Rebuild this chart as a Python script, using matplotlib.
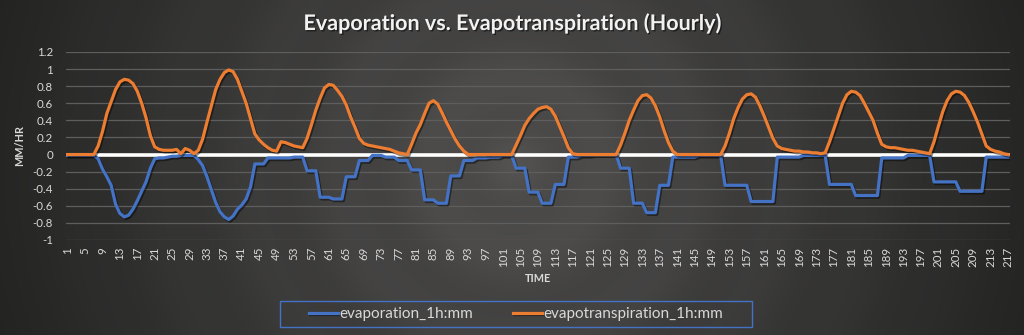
import numpy as np
import matplotlib
matplotlib.use('Agg')
import matplotlib.pyplot as plt
import matplotlib.patheffects as pe
from matplotlib.patches import Rectangle

# hourly values
hours = list(range(1, 218))
evapotranspiration = [
    0, 0, 0, 0, 0, 0, 0,
    0.10, 0.27, 0.48, 0.62, 0.76, 0.85, 0.88, 0.87, 0.83, 0.74, 0.60, 0.43, 0.22, 0.09,
    0.06, 0.05, 0.05, 0.05, 0.06, 0.01, 0.07, 0.05, 0.01, 0.05,
    0.18, 0.38, 0.57, 0.76, 0.88, 0.96, 0.99, 0.97, 0.88, 0.74,
    0.60, 0.42, 0.24, 0.17, 0.12, 0.08, 0.05, 0.04, 0.15, 0.14,
    0.12, 0.10, 0.09, 0.08, 0.19, 0.35, 0.52, 0.66, 0.78, 0.82,
    0.81, 0.75, 0.68, 0.58, 0.44, 0.32, 0.19, 0.13, 0.11, 0.10,
    0.09, 0.08, 0.07, 0.06, 0.04, 0.02, 0.01, 0.0, 0.12, 0.25,
    0.35, 0.48, 0.60, 0.63, 0.59, 0.49, 0.38, 0.28, 0.18, 0.10,
    0.04, 0.0,
    0, 0, 0, 0, 0, 0, 0, 0, 0, 0,
    0.11, 0.22, 0.34, 0.42, 0.48, 0.53, 0.55, 0.56, 0.53, 0.45,
    0.33, 0.21, 0.08, 0.01,
    0, 0, 0, 0, 0, 0, 0, 0, 0, 0,
    0.11, 0.25, 0.40, 0.52, 0.63, 0.69, 0.70, 0.66, 0.57, 0.44,
    0.28, 0.14, 0.04, 0.0,
    0, 0, 0, 0, 0, 0, 0, 0, 0, 0,
    0.10, 0.25, 0.42, 0.55, 0.65, 0.70, 0.71, 0.67, 0.57, 0.45,
    0.32, 0.19, 0.10, 0.07, 0.06, 0.05, 0.04, 0.04, 0.03, 0.03,
    0.02, 0.02, 0.01, 0.02, 0.15, 0.30, 0.45, 0.60, 0.70, 0.74,
    0.73, 0.69, 0.60, 0.50, 0.40, 0.25, 0.12, 0.09, 0.08, 0.08,
    0.07, 0.06, 0.05, 0.05, 0.04, 0.03, 0.02, 0.01, 0.15, 0.33,
    0.50, 0.63, 0.71, 0.74, 0.73, 0.69, 0.61, 0.50, 0.38, 0.24,
    0.10, 0.06, 0.04, 0.03, 0.01, 0.0,
]
evaporation = [
    -0.01, -0.01, -0.01, -0.01, -0.01, -0.01, -0.01,
    -0.05, -0.17, -0.26, -0.36, -0.58, -0.69, -0.73, -0.71, -0.64, -0.54, -0.43, -0.32, -0.16, -0.05,
    -0.04, -0.04, -0.03, -0.02, -0.02, -0.01, -0.01, -0.01, -0.01, -0.06,
    -0.13, -0.26, -0.41, -0.56, -0.67, -0.73, -0.76, -0.72, -0.64, -0.59,
    -0.52, -0.38,
    -0.11, -0.11, -0.11, -0.04, -0.04, -0.04, -0.04, -0.04, -0.04,
    -0.03, -0.03, -0.03, -0.19, -0.19, -0.19, -0.50, -0.50, -0.50,
    -0.52, -0.52, -0.52, -0.26, -0.26, -0.26, -0.07, -0.07, -0.07,
    -0.01, -0.01, -0.01, -0.03, -0.03, -0.03, -0.07, -0.07, -0.07,
    -0.18, -0.18, -0.18, -0.53, -0.53, -0.53, -0.57, -0.57, -0.57,
    -0.25, -0.25, -0.25, -0.07, -0.07, -0.07, -0.04, -0.04, -0.04,
    -0.03, -0.03, -0.03, -0.01, -0.01, -0.01, -0.16, -0.16, -0.16,
    -0.44, -0.44, -0.44, -0.57, -0.57, -0.57, -0.35, -0.35, -0.35,
    -0.03, -0.03, -0.03, -0.01, -0.01, -0.01, 0, 0, 0, 0, 0, 0,
    -0.16, -0.16, -0.16, -0.57, -0.57, -0.57, -0.68, -0.68, -0.68,
    -0.36, -0.36, -0.36, -0.03, -0.03, -0.03, -0.03, -0.03, -0.03,
    -0.01, -0.01, -0.01, -0.01, -0.01, -0.01,
    -0.36, -0.36, -0.36, -0.36, -0.36, -0.36,
    -0.55, -0.55, -0.55, -0.55, -0.55, -0.55,
    -0.03, -0.03, -0.03, -0.03, -0.03, -0.03,
    -0.01, -0.01, -0.01, -0.01, -0.01, -0.01,
    -0.35, -0.35, -0.35, -0.35, -0.35, -0.35,
    -0.48, -0.48, -0.48, -0.48, -0.48, -0.48,
    -0.04, -0.04, -0.04, -0.04, -0.04, -0.04,
    -0.01, -0.01, -0.01, -0.01, -0.01, -0.01,
    -0.32, -0.32, -0.32, -0.32, -0.32, -0.32,
    -0.43, -0.43, -0.43, -0.43, -0.43, -0.43,
    -0.03, -0.03, -0.03, -0.03, -0.03, -0.03,
]
x_ticks = list(range(1, 218, 4))
y_ticks = [-1, -0.8, -0.6, -0.4, -0.2, 0, 0.2, 0.4, 0.6, 0.8, 1, 1.2]
y_labels = ['-1', '-0.8', '-0.6', '-0.4', '-0.2', '0', '0.2', '0.4', '0.6', '0.8', '1', '1.2']

plt.rcParams['font.family'] = ['Lato', 'DejaVu Sans']
txt = '#d9d9d9'

fig = plt.figure(figsize=(10.24, 3.35), dpi=100)

# radial dark background
bg = fig.add_axes([0, 0, 1, 1], zorder=-10)
H, W = 335, 1024
yy, xx = np.mgrid[0:H, 0:W]
r = np.hypot(xx - 515, yy - 165)
t = np.clip(r / 540, 0, 1)
band = 0.012 * np.cos(r / 90 * 2 * np.pi)
lev = 0.315 - 0.175 * t + band * (1 - t)
img = np.dstack([lev + 0.004 * (1 - t), lev, lev - 0.003])
bg.imshow(np.clip(img, 0, 1), aspect='auto', extent=[0, 1, 0, 1])
bg.set_xlim(0, 1)
bg.set_ylim(0, 1)
bg.set_axis_off()

ax = fig.add_axes([65.5 / 1024, 1 - 240 / 335, 944.7 / 1024, 188 / 335])
ax.set_facecolor('none')

shadow = [pe.SimpleLineShadow(offset=(1, -1.2), shadow_color='black', alpha=0.45), pe.Normal()]
ax.axhline(0, color='white', lw=2.6, zorder=2)
ax.plot(hours, evaporation, color='#4472C4', lw=2.3, label='evaporation_1h:mm',
        path_effects=shadow, zorder=3, solid_joinstyle='round')
ax.plot(hours, evapotranspiration, color='#ED7D31', lw=2.3, label='evapotranspiration_1h:mm',
        path_effects=shadow, zorder=4, solid_joinstyle='round')

ax.set_xlim(0.5, 217.5)
ax.set_ylim(-1, 1.2)
ax.set_yticks(y_ticks)
ax.set_yticklabels(y_labels)
ax.set_xticks(x_ticks)
ax.set_xticklabels([str(v) for v in x_ticks], rotation=90)
ax.grid(axis='y', color='#5e5e5e', lw=0.9, zorder=0)
ax.set_axisbelow(True)
ax.tick_params(length=0, colors=txt, labelsize=8.3)
ax.tick_params(axis='y', pad=9)
ax.tick_params(axis='x', pad=5)
for s in ax.spines.values():
    s.set_visible(False)

ax.set_ylabel('MM/HR', color=txt, fontsize=7.8, fontweight='bold', labelpad=5)
ax.set_xlabel('TIME', color=txt, fontsize=7.8, fontweight='bold', labelpad=4)

fig.text(0.5, 1 - 23 / 335, 'Evaporation vs. Evapotranspiration (Hourly)', ha='center', va='center',
         color='#f2f2f2', fontsize=15.5, fontweight='bold',
         path_effects=[pe.withSimplePatchShadow(offset=(1, -1), shadow_rgbFace='black', alpha=0.5)])

leg = fig.legend(loc='center', bbox_to_anchor=(516 / 1024, 1 - 314 / 335), ncol=2, frameon=False,
                 fontsize=11, handlelength=1.9, columnspacing=2.6, handletextpad=0.1)
for tx in leg.get_texts():
    tx.set_color(txt)
fig.patches.append(Rectangle((280 / 1024, 1 - 327 / 335), 472 / 1024, 26 / 335,
                             transform=fig.transFigure, fill=False, edgecolor='#4472C4', lw=1.0))

fig.savefig('out.png', dpi=100)
